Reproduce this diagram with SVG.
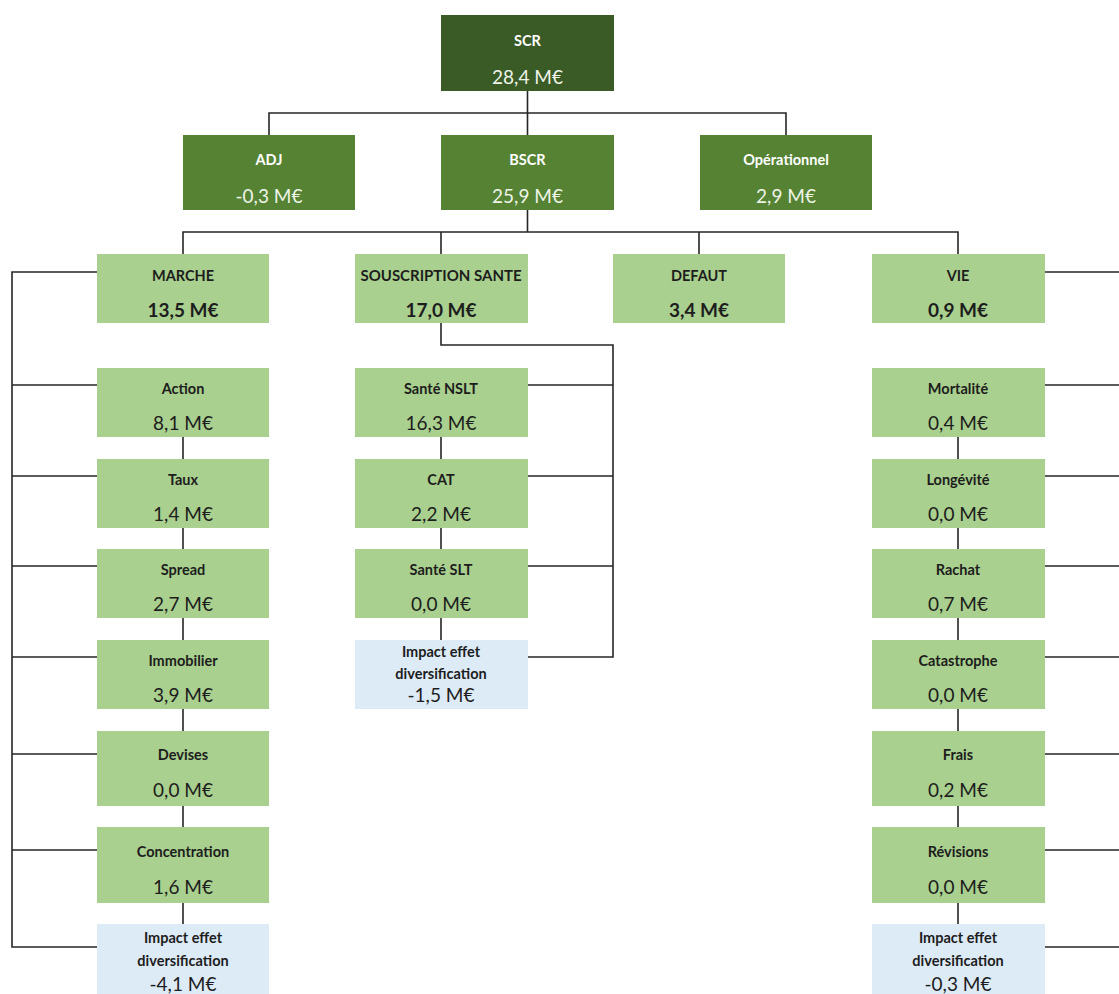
<svg xmlns="http://www.w3.org/2000/svg" width="1119" height="994" viewBox="0 0 1119 994">
  <style>
    .top { fill: #3a5a26; }
    .mid { fill: #558233; }
    .leaf { fill: #a9d08e; }
    .div { fill: #ddebf7; }
    text { font-family: Lato, "Open Sans", "Liberation Sans", sans-serif; text-anchor: middle; dominant-baseline: central; }
    .lbl-w { fill: #ffffff; font-weight: 700; font-size: 14.5px; }
    .val-w { fill: #eef4e8; font-size: 19px; }
    .lbl { fill: #1d1d1d; font-weight: 700; font-size: 14.5px; }
    .val { fill: #1d1d1d; font-size: 19px; }
    .valb { fill: #1d1d1d; font-size: 19px; font-weight: 700; }
    .wire { fill: none; stroke: #262626; stroke-width: 1.6; }
  </style>

  <!-- connectors -->
  <g id="connectors" class="wire">
    <!-- SCR to level 2 -->
    <path d="M527.5 91 V113 M269 135 V113 H786 V135 M527.5 113 V135"/>
    <!-- BSCR to risk modules -->
    <path d="M527.5 210 V232 M183 254 V232 H958 V254 M441 232 V254 M699 232 V254"/>
    <!-- MARCHE sub-modules (left bracket) -->
    <path d="M97 272 H12 V947 H97 M12 385 H97 M12 476 H97 M12 566 H97 M12 657 H97 M12 754 H97 M12 850 H97"/>
    <path d="M183 437 V459 M183 528 V549 M183 618 V640 M183 709 V731 M183 806 V827 M183 903 V924"/>
    <!-- SOUSCRIPTION SANTE sub-modules (right bracket) -->
    <path d="M441 323 V345 H613 V657 H528 M528 385 H613 M528 476 H613 M528 566 H613"/>
    <path d="M441 437 V459 M441 528 V549 M441 618 V640"/>
    <!-- VIE sub-modules (bracket running past the right edge) -->
    <path d="M1045 272 H1125 V947 H1045 M1045 385 H1125 M1045 476 H1125 M1045 566 H1125 M1045 657 H1125 M1045 754 H1125 M1045 850 H1125"/>
    <path d="M958 437 V459 M958 528 V549 M958 618 V640 M958 709 V731 M958 806 V827 M958 903 V924"/>
  </g>

  <!-- level 1 -->
  <g id="scr">
    <rect class="top" x="441" y="15" width="173" height="76"/>
    <text class="lbl-w" x="527.5" y="40">SCR</text>
    <text class="val-w" x="527.5" y="76">28,4 M€</text>
  </g>

  <!-- level 2 -->
  <g id="adj">
    <rect class="mid" x="183" y="135" width="172" height="75"/>
    <text class="lbl-w" x="269" y="159">ADJ</text>
    <text class="val-w" x="269" y="195">-0,3 M€</text>
  </g>
  <g id="bscr">
    <rect class="mid" x="441" y="135" width="173" height="75"/>
    <text class="lbl-w" x="527.5" y="159">BSCR</text>
    <text class="val-w" x="527.5" y="195">25,9 M€</text>
  </g>
  <g id="operationnel">
    <rect class="mid" x="700" y="135" width="172" height="75"/>
    <text class="lbl-w" x="786" y="159">Opérationnel</text>
    <text class="val-w" x="786" y="195">2,9 M€</text>
  </g>

  <!-- level 3: risk modules -->
  <g id="marche">
    <rect class="leaf" x="97" y="254" width="172" height="69"/>
    <text class="lbl" x="183" y="275">MARCHE</text>
    <text class="valb" x="183" y="309">13,5 M€</text>
  </g>
  <g id="souscription-sante">
    <rect class="leaf" x="355" y="254" width="173" height="69"/>
    <text class="lbl" x="441" y="275" textLength="161" lengthAdjust="spacingAndGlyphs">SOUSCRIPTION SANTE</text>
    <text class="valb" x="441" y="309">17,0 M€</text>
  </g>
  <g id="defaut">
    <rect class="leaf" x="613" y="254" width="172" height="69"/>
    <text class="lbl" x="699" y="275">DEFAUT</text>
    <text class="valb" x="699" y="309">3,4 M€</text>
  </g>
  <g id="vie">
    <rect class="leaf" x="872" y="254" width="173" height="69"/>
    <text class="lbl" x="958" y="275">VIE</text>
    <text class="valb" x="958" y="309">0,9 M€</text>
  </g>

  <!-- MARCHE sub-modules -->
  <g id="action">
    <rect class="leaf" x="97" y="368" width="172" height="69"/>
    <text class="lbl" x="183" y="388">Action</text>
    <text class="val" x="183" y="422">8,1 M€</text>
  </g>
  <g id="taux">
    <rect class="leaf" x="97" y="459" width="172" height="69"/>
    <text class="lbl" x="183" y="479">Taux</text>
    <text class="val" x="183" y="513">1,4 M€</text>
  </g>
  <g id="spread">
    <rect class="leaf" x="97" y="549" width="172" height="69"/>
    <text class="lbl" x="183" y="569">Spread</text>
    <text class="val" x="183" y="603">2,7 M€</text>
  </g>
  <g id="immobilier">
    <rect class="leaf" x="97" y="640" width="172" height="69"/>
    <text class="lbl" x="183" y="660">Immobilier</text>
    <text class="val" x="183" y="694">3,9 M€</text>
  </g>
  <g id="devises">
    <rect class="leaf" x="97" y="731" width="172" height="75"/>
    <text class="lbl" x="183" y="754">Devises</text>
    <text class="val" x="183" y="789">0,0 M€</text>
  </g>
  <g id="concentration">
    <rect class="leaf" x="97" y="827" width="172" height="76"/>
    <text class="lbl" x="183" y="851">Concentration</text>
    <text class="val" x="183" y="886">1,6 M€</text>
  </g>
  <g id="marche-diversification">
    <rect class="div" x="97" y="924" width="172" height="75"/>
    <text class="lbl" x="183" y="937">Impact effet</text>
    <text class="lbl" x="183" y="960">diversification</text>
    <text class="val" x="183" y="983">-4,1 M€</text>
  </g>

  <!-- SOUSCRIPTION SANTE sub-modules -->
  <g id="sante-nslt">
    <rect class="leaf" x="355" y="368" width="173" height="69"/>
    <text class="lbl" x="441" y="388">Santé NSLT</text>
    <text class="val" x="441" y="422">16,3 M€</text>
  </g>
  <g id="cat">
    <rect class="leaf" x="355" y="459" width="173" height="69"/>
    <text class="lbl" x="441" y="479">CAT</text>
    <text class="val" x="441" y="513">2,2 M€</text>
  </g>
  <g id="sante-slt">
    <rect class="leaf" x="355" y="549" width="173" height="69"/>
    <text class="lbl" x="441" y="569">Santé SLT</text>
    <text class="val" x="441" y="603">0,0 M€</text>
  </g>
  <g id="sante-diversification">
    <rect class="div" x="355" y="640" width="173" height="69"/>
    <text class="lbl" x="441" y="651">Impact effet</text>
    <text class="lbl" x="441" y="673">diversification</text>
    <text class="val" x="441" y="694">-1,5 M€</text>
  </g>

  <!-- VIE sub-modules -->
  <g id="mortalite">
    <rect class="leaf" x="872" y="368" width="173" height="69"/>
    <text class="lbl" x="958" y="388">Mortalité</text>
    <text class="val" x="958" y="422">0,4 M€</text>
  </g>
  <g id="longevite">
    <rect class="leaf" x="872" y="459" width="173" height="69"/>
    <text class="lbl" x="958" y="479">Longévité</text>
    <text class="val" x="958" y="513">0,0 M€</text>
  </g>
  <g id="rachat">
    <rect class="leaf" x="872" y="549" width="173" height="69"/>
    <text class="lbl" x="958" y="569">Rachat</text>
    <text class="val" x="958" y="603">0,7 M€</text>
  </g>
  <g id="catastrophe">
    <rect class="leaf" x="872" y="640" width="173" height="69"/>
    <text class="lbl" x="958" y="660">Catastrophe</text>
    <text class="val" x="958" y="694">0,0 M€</text>
  </g>
  <g id="frais">
    <rect class="leaf" x="872" y="731" width="173" height="75"/>
    <text class="lbl" x="958" y="754">Frais</text>
    <text class="val" x="958" y="789">0,2 M€</text>
  </g>
  <g id="revisions">
    <rect class="leaf" x="872" y="827" width="173" height="76"/>
    <text class="lbl" x="958" y="851">Révisions</text>
    <text class="val" x="958" y="886">0,0 M€</text>
  </g>
  <g id="vie-diversification">
    <rect class="div" x="872" y="924" width="173" height="75"/>
    <text class="lbl" x="958" y="937">Impact effet</text>
    <text class="lbl" x="958" y="960">diversification</text>
    <text class="val" x="958" y="983">-0,3 M€</text>
  </g>
</svg>
